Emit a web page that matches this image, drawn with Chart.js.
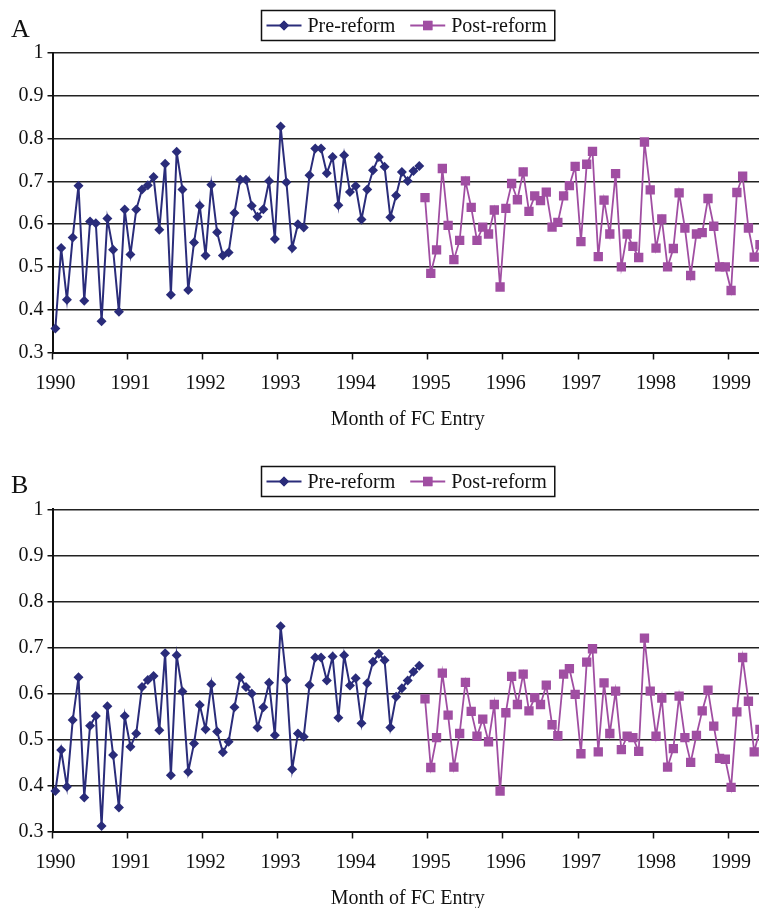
<!DOCTYPE html>
<html>
<head>
<meta charset="utf-8">
<script src="https://cdn.jsdelivr.net/npm/chart.js@4.4.1/dist/chart.umd.min.js"></script>
<style>
  html, body { margin: 0; padding: 0; background: #fff; }
  #page { position: relative; width: 759px; height: 908px; overflow: hidden; }
  canvas { position: absolute; left: 0; }
  #chartA { top: 0; }
  #chartB { top: 456px; }
</style>
</head>
<body>
<div id="page">
  <canvas id="chartA" width="772" height="442"></canvas>
  <canvas id="chartB" width="772" height="465"></canvas>
</div>
<script>
// tick labels on the x axis, 13 entry periods per year
const years = ["1990","1991","1992","1993","1994","1995","1996","1997","1998","1999"];
const perYear = 13;
const shown = 123;

// panel A
const preA = [0.356,0.544,0.423,0.569,0.690,0.421,0.606,0.602,0.373,0.613,0.540,0.395,0.634,
  0.529,0.634,0.681,0.691,0.710,0.587,0.741,0.435,0.769,0.681,0.446,0.557,0.643,
  0.527,0.692,0.581,0.527,0.534,0.626,0.704,0.704,0.643,0.617,0.635,0.701,0.565,
  0.828,0.698,0.544,0.600,0.592,0.714,0.777,0.777,0.719,0.757,0.644,0.761,0.675,
  0.689,0.611,0.681,0.726,0.757,0.734,0.616,0.667,0.722,0.701,0.724,0.736];
const postA = [0.662,0.485,0.540,0.730,0.597,0.517,0.562,0.701,0.639,0.562,0.593,0.577,
  0.633,0.453,0.637,0.695,0.657,0.722,0.630,0.666,0.655,0.675,0.593,0.604,0.666,
  0.690,0.735,0.559,0.740,0.770,0.524,0.656,0.577,0.718,0.500,0.577,0.548,0.522,
  0.792,0.680,0.544,0.612,0.500,0.543,0.673,0.591,0.480,0.577,0.580,0.660,0.595,
  0.500,0.500,0.445,0.674,0.712,0.591,0.523,0.552];

// panel B
const preB = [0.388,0.477,0.397,0.542,0.635,0.374,0.530,0.551,0.312,0.572,0.466,0.352,0.551,
  0.484,0.513,0.614,0.629,0.638,0.520,0.687,0.422,0.683,0.604,0.430,0.491,0.575,
  0.522,0.620,0.517,0.472,0.495,0.570,0.635,0.614,0.600,0.526,0.570,0.623,0.509,
  0.746,0.629,0.435,0.513,0.506,0.618,0.678,0.678,0.628,0.680,0.547,0.683,0.617,
  0.633,0.535,0.622,0.669,0.686,0.672,0.526,0.593,0.611,0.628,0.647,0.660];
const postB = [0.588,0.439,0.504,0.644,0.553,0.440,0.513,0.624,0.561,0.507,0.544,0.495,
  0.576,0.388,0.558,0.637,0.576,0.642,0.562,0.591,0.576,0.618,0.532,0.508,0.642,
  0.654,0.598,0.469,0.668,0.697,0.473,0.623,0.513,0.605,0.478,0.507,0.504,0.474,
  0.720,0.605,0.507,0.590,0.440,0.480,0.594,0.504,0.450,0.509,0.562,0.607,0.529,
  0.459,0.457,0.396,0.560,0.678,0.583,0.473,0.522];

const labels = years.flatMap(y => Array.from({length: perYear}, (_, p) => y + "-" + (p + 1))).slice(0, shown);

const preColor = "#2a2c7a";
const postColor = "#a04ea2";
const font = "Liberation Serif";

// boxed legend + panel letter, drawn like the original spreadsheet chart
const boxLegend = {
  id: "boxLegend",
  afterDraw(chart, args, opts) {
    const ctx = chart.ctx;
    ctx.save();
    ctx.fillStyle = "#111";
    ctx.textBaseline = "alphabetic";
    ctx.font = "26px '" + font + "'";
    ctx.fillText(opts.letter, 11, 37);

    ctx.font = "20px '" + font + "'";
    const sets = chart.data.datasets;
    let total = 5;
    const widths = sets.map(ds => ctx.measureText(ds.label).width);
    sets.forEach((ds, i) => { total += 41 + widths[i] + (i < sets.length - 1 ? 15 : 8); });
    const mid = (chart.chartArea.left + chart.chartArea.right) / 2;
    const left = Math.round(mid - total / 2) + 0.5;
    const top = 10.5, h = 30;
    ctx.strokeStyle = "#111";
    ctx.lineWidth = 1.5;
    ctx.strokeRect(left, top, total, h);

    let x = left + 5;
    const cy = top + h / 2;
    sets.forEach((ds, i) => {
      ctx.strokeStyle = ds.borderColor;
      ctx.lineWidth = ds.borderWidth;
      ctx.beginPath();
      ctx.moveTo(x, cy);
      ctx.lineTo(x + 35, cy);
      ctx.stroke();
      ctx.fillStyle = ds.backgroundColor;
      Chart.helpers.drawPoint(ctx, {pointStyle: ds.pointStyle, radius: ds.pointRadius, borderWidth: 0}, x + 17.5, cy);
      ctx.fill();
      ctx.fillStyle = "#111";
      ctx.textBaseline = "middle";
      ctx.fillText(ds.label, x + 41, cy + 1);
      x += 41 + widths[i] + 15;
    });
    ctx.restore();
  }
};

function makePanel(id, letter, pre, post, topPad) {
  const ctx = document.getElementById(id).getContext("2d");
  return new Chart(ctx, {
    type: "line",
    data: {
      labels: labels,
      datasets: [
        {
          label: "Pre-reform",
          data: pre,
          borderColor: preColor,
          backgroundColor: preColor,
          borderWidth: 2,
          pointStyle: "rectRot",
          pointRadius: 5,
          pointBorderWidth: 0,
          tension: 0
        },
        {
          label: "Post-reform",
          data: Array(pre.length).fill(null).concat(post),
          borderColor: postColor,
          backgroundColor: postColor,
          borderWidth: 1.8,
          pointStyle: "rect",
          pointRadius: 6.6,
          pointBorderWidth: 0,
          tension: 0
        }
      ]
    },
    options: {
      responsive: false,
      animation: false,
      devicePixelRatio: 1,
      layout: { padding: { top: topPad, left: 0, right: 0, bottom: 0 } },
      plugins: {
        legend: { display: false },
        tooltip: { enabled: false },
        boxLegend: { letter: letter }
      },
      scales: {
        x: {
          offset: true,
          afterFit: s => { s.height = 89.5; },
          grid: {
            offset: true,
            drawOnChartArea: false,
            tickLength: 7,
            tickWidth: 1.5,
            tickColor: c => (c.index % perYear === 0 ? "#111" : "rgba(0,0,0,0)")
          },
          border: { color: "#111", width: 2 },
          ticks: {
            autoSkip: false,
            maxRotation: 0,
            padding: 12,
            color: "#111",
            font: { family: font, size: 20 },
            callback: (v, i) => (i % perYear === 0 ? years[i / perYear] : "")
          },
          title: {
            display: true,
            text: "Month of FC Entry",
            color: "#111",
            font: { family: font, size: 20 },
            padding: { top: 0, bottom: 10 }
          }
        },
        y: {
          min: 0.3,
          max: 1,
          afterFit: s => { s.width = 52.5; },
          grid: {
            color: "#222",
            lineWidth: 1.5,
            tickLength: 5,
            tickColor: "#111"
          },
          border: { color: "#111", width: 2 },
          ticks: {
            stepSize: 0.1,
            padding: 4,
            color: "#111",
            font: { family: font, size: 20 },
            callback: v => String(Math.round(v * 10) / 10)
          }
        }
      }
    },
    plugins: [boxLegend]
  });
}

makePanel("chartA", "A", preA, postA, 53);
makePanel("chartB", "B", preB, postB, 53.3);
</script>
</body>
</html>
